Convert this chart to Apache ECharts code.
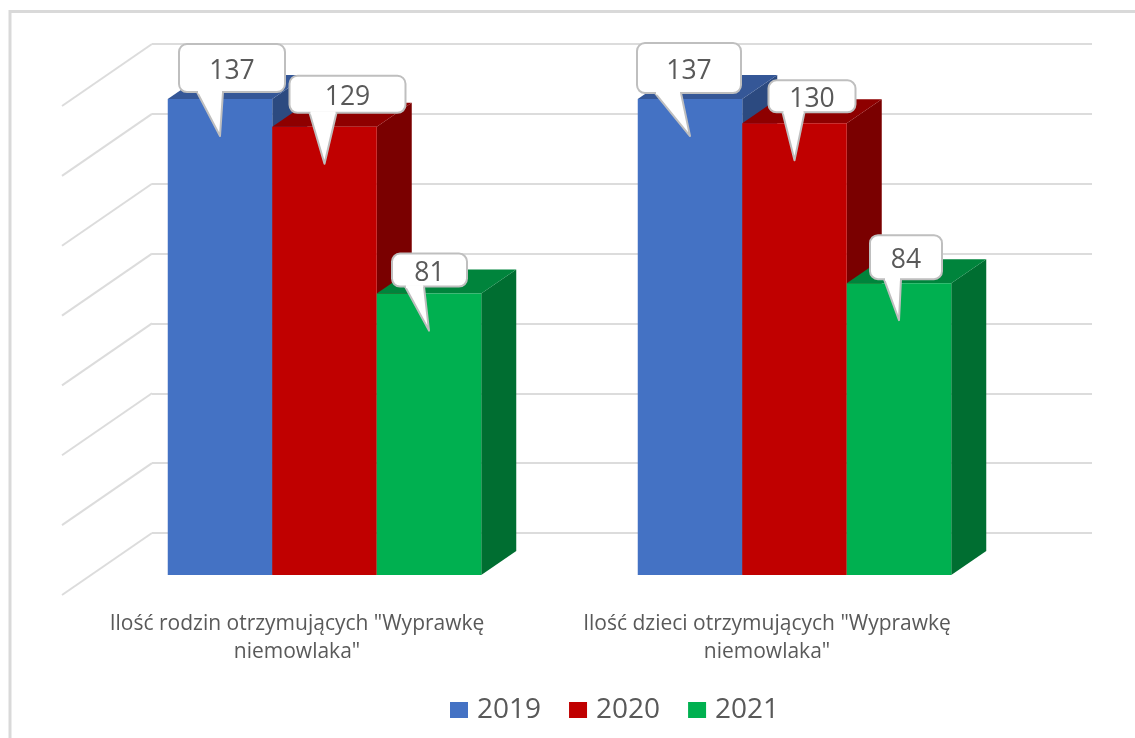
<!DOCTYPE html>
<html><head><meta charset="utf-8">
<style>html,body{margin:0;padding:0;background:#fff}#c{width:1135px;height:738px}</style>
<script src="https://cdn.jsdelivr.net/npm/echarts@6/dist/echarts.min.js"></script>
</head><body><div id="c"></div>
<script>
// ---- data ----
const categories = ['Ilość rodzin otrzymujących "Wyprawkę\nniemowlaka"', 'Ilość dzieci otrzymujących "Wyprawkę\nniemowlaka"'];
const years = ['2019', '2020', '2021'];
const values2019 = [137, 137];
const values2020 = [129, 130];
const values2021 = [81, 84];
const axisTicks = [0, 20, 40, 60, 80, 100, 120, 140];
// ---- style ----
const frontColors = ['#4472C4', '#C00000', '#00B050'];
const topColors = ['#355797', '#8E0000', '#00843C'];
const sideColors = ['#2C4A80', '#7A0000', '#006E31'];
const gridColor = '#DCDCDC';
const textColor = '#595959';
const fontFamily = '"Open Sans", sans-serif';
const depthX = 35, depthY = 24, wallSkewX = 90, wallSkewY = 62;
const barFrac = 104.5 / 470;
// callout layout relative to the tail tip: [box left, box right, box top, box bottom, tail base left, tail base right]
const calloutLayout2019 = [[-41, 65, -92, -44, -23, 3], [-53, 51, -93, -43, -35, -9]];
const calloutLayout2020 = [[-35, 81, -88, -51, -15, 12], [-26, 61, -80, -48, -12, 10]];
const calloutLayout2021 = [[-37, 38, -77, -44, -24, -5], [-29, 43, -85, -41, -15, 2]];
const seriesValues = [values2019, values2020, values2021];
const calloutLayouts = [calloutLayout2019, calloutLayout2020, calloutLayout2021];

function barRender(si) {
  return function (params, api) {
    const band = api.size([1, 0])[0];
    const w = band * barFrac;
    const base = api.coord([api.value(0), 0]);
    const top = api.coord([api.value(0), api.value(1)]);
    const l = base[0] + (si - 1.5) * w, r = l + w;
    return { type: 'group', children: [
      { type: 'polygon', shape: { points: [[r, top[1]], [r + depthX, top[1] - depthY], [r + depthX, base[1] - depthY], [r, base[1]]] }, style: { fill: sideColors[si] } },
      { type: 'polygon', shape: { points: [[l, top[1]], [l + depthX, top[1] - depthY], [r + depthX, top[1] - depthY], [r, top[1]]] }, style: { fill: topColors[si] } },
      { type: 'rect', shape: { x: l, y: top[1], width: w, height: base[1] - top[1] }, style: { fill: frontColors[si] } }
    ] };
  };
}
function calloutRender(si) {
  return function (params, api) {
    const band = api.size([1, 0])[0];
    const w = band * barFrac;
    const i = api.value(0);
    const top = api.coord([i, api.value(1)]);
    const base = api.coord([i, 0]);
    const tip = [base[0] + (si - 1) * w, top[1] + 37];
    const a = calloutLayouts[si][i];
    const x0 = tip[0] + a[0], x1 = tip[0] + a[1], y0 = tip[1] + a[2], y1 = tip[1] + a[3];
    const bl = [tip[0] + a[4], y1], br = [tip[0] + a[5], y1];
    const stroke = { stroke: '#BFBFBF', lineWidth: 2, lineJoin: 'round' };
    return { type: 'group', children: [
      { type: 'rect', shape: { x: x0, y: y0, width: x1 - x0, height: y1 - y0, r: 8 }, style: Object.assign({ fill: '#fff' }, stroke) },
      { type: 'polyline', shape: { points: [bl, tip, br] }, style: Object.assign({ fill: '#fff' }, stroke) },
      { type: 'line', shape: { x1: bl[0] + 1, y1: y1, x2: br[0] - 1, y2: y1 }, style: { stroke: '#fff', lineWidth: 3 } },
      { type: 'text', style: { x: (x0 + x1) / 2, y: (y0 + y1) / 2 + 3.5, text: String(api.value(1)), fill: textColor, font: '26.5px ' + fontFamily, align: 'center', verticalAlign: 'middle' } }
    ] };
  };
}
function slantRender(params, api) {
  const p = api.coord([0, api.value(0)]);
  const x0 = params.coordSys.x;
  return { type: 'line', shape: { x1: x0, y1: p[1], x2: x0 - wallSkewX, y2: p[1] + wallSkewY }, style: { stroke: gridColor, lineWidth: 2 } };
}
const option = {
  animation: false,
  backgroundColor: '#fff',
  textStyle: { fontFamily: fontFamily },
  graphic: [{ type: 'rect', silent: true, z: -10, shape: { x: 10, y: 11.5, width: 1140, height: 760 }, style: { fill: 'none', stroke: '#D9D9D9', lineWidth: 3 } }],
  grid: [
    { left: 152, right: 43, top: 44, bottom: 205 },   // back wall
    { left: 62, width: 940, top: 106, bottom: 143 },  // label plane
    { left: 89.5, width: 940, top: 88.6, bottom: 163 } // bar plane
  ],
  xAxis: [
    { gridIndex: 0, type: 'category', data: categories, show: false },
    { gridIndex: 1, type: 'category', data: categories, axisLine: { show: false }, axisTick: { show: false },
      axisLabel: { color: textColor, fontSize: 21, lineHeight: 28, fontFamily: fontFamily, margin: 15, interval: 0 } },
    { gridIndex: 2, type: 'category', data: categories, show: false }
  ],
  yAxis: [
    { gridIndex: 0, type: 'value', min: 0, max: 140, interval: 20, axisLine: { show: false }, axisTick: { show: false }, axisLabel: { show: false },
      splitLine: { show: true, lineStyle: { color: gridColor, width: 2 } } },
    { gridIndex: 1, type: 'value', min: 0, max: 140, show: false, splitLine: { show: false } },
    { gridIndex: 2, type: 'value', min: 0, max: 140, show: false, splitLine: { show: false } }
  ],
  legend: { left: 450, top: 696, padding: 0, data: years, itemWidth: 18, itemHeight: 16, itemGap: 28, icon: 'rect',
    textStyle: { color: textColor, fontSize: 28, fontFamily: fontFamily, padding: [0, 0, 0, 4] } },
  series: [
    { type: 'custom', name: 'wall', xAxisIndex: 0, yAxisIndex: 0, data: axisTicks.map(v => [v]), renderItem: slantRender, encode: { y: 0 }, silent: true, z: 1 },
    ...years.map((y, si) => ({ type: 'custom', name: y, xAxisIndex: 2, yAxisIndex: 2, z: 2 + si, itemStyle: { color: frontColors[si] },
      data: seriesValues[si].map((v, i) => [i, v]), encode: { x: 0, y: 1 }, renderItem: barRender(si) })),
    ...years.map((y, si) => ({ type: 'custom', name: 'callout' + y, xAxisIndex: 2, yAxisIndex: 2, z: 10 + si,
      data: seriesValues[si].map((v, i) => [i, v]), encode: { x: 0, y: 1 }, renderItem: calloutRender(si) }))
  ]
};
echarts.init(document.getElementById('c'), null, { renderer: 'canvas' }).setOption(option);
</script></body></html>
